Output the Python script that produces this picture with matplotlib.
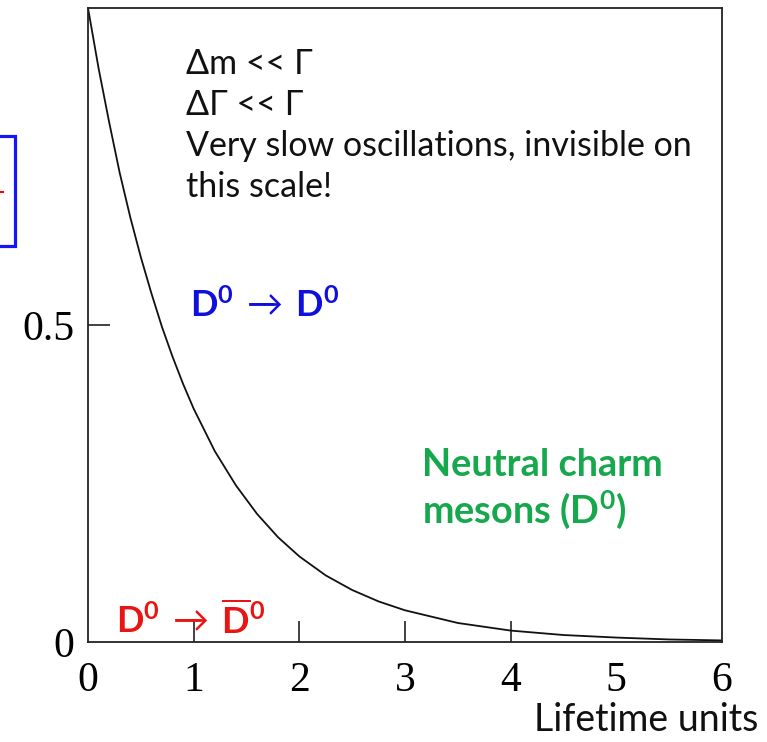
import matplotlib
matplotlib.use("Agg")
import matplotlib.pyplot as plt
from matplotlib.patches import Rectangle
from matplotlib.lines import Line2D

# Survival probability of a D0 versus proper time (in lifetime units)
t_values = [0.0, 0.1, 0.2, 0.3, 0.4, 0.5, 0.6, 0.7, 0.8, 0.9, 1.0, 1.2, 1.4,
            1.6, 1.8, 2.0, 2.25, 2.5, 2.75, 3.0, 3.5, 4.0, 4.5, 5.0, 5.5, 6.0]
p_unmixed = [1.0, 0.905, 0.82, 0.74, 0.67, 0.607, 0.55, 0.497, 0.45, 0.407,
             0.368, 0.301, 0.247, 0.202, 0.165, 0.135, 0.105, 0.082, 0.064,
             0.05, 0.03, 0.018, 0.011, 0.007, 0.004, 0.0025]

x_ticks = [0, 1, 2, 3, 4, 5, 6]
x_tick_labels = ["0", "1", "2", "3", "4", "5", "6"]
y_ticks = [0, 0.5]
y_tick_labels = ["0", "0.5"]

plt.rcParams["mathtext.fontset"] = "custom"
plt.rcParams["mathtext.rm"] = "Lato"
plt.rcParams["mathtext.bf"] = "Lato:bold"
plt.rcParams["mathtext.fallback"] = "stix"

W, H = 767, 742
fig = plt.figure(figsize=(W / 100, H / 100), dpi=100)
fig.patch.set_facecolor("white")


def px(x, y):
    return x / W, 1 - y / H


ax = fig.add_axes([88 / W, 1 - 642 / H, (722 - 88) / W, (642 - 8) / H])
ax.plot(t_values, p_unmixed, color="#111111", lw=1.3)
ax.set_xlim(0, 6)
ax.set_ylim(0, 1)
for s in ax.spines.values():
    s.set_linewidth(1.3)
    s.set_color("#222222")

ax.set_xticks(x_ticks)
ax.set_xticklabels(x_tick_labels, family="Liberation Serif", fontsize=30)
ax.set_yticks(y_ticks)
ax.set_yticklabels(y_tick_labels, family="Liberation Serif", fontsize=30)
ax.tick_params(axis="x", direction="in", length=15, width=1.2, pad=14,
               color="#222222")
ax.tick_params(axis="y", direction="in", length=16, width=1.2, pad=10,
               color="#222222")
for i, tk in enumerate(ax.xaxis.get_major_ticks()):
    if i in (0, 5, 6):
        tk.tick1line.set_visible(False)
ax.yaxis.get_major_ticks()[0].tick1line.set_visible(False)

fam = ["Lato", "DejaVu Sans"]

notes = ["\u0394m << \u0393", "\u0394\u0393 << \u0393",
         "Very slow oscillations, invisible on", "this scale!"]
for i, line in enumerate(notes):
    fig.text(*px(186, 74 + i * 41), line, family=fam, fontsize=24.5,
             color="#111111", va="baseline", ha="left")

fig.text(*px(190, 317), r"$\mathbf{D^0}\,\rightarrow\,\mathbf{D^0}$",
         fontsize=26, color="#1010DD", va="baseline", ha="left")
fig.text(*px(116, 634),
         r"$\mathbf{D^0}\,\rightarrow\,\overline{\mathbf{D}}\mathbf{^0}$",
         fontsize=26, color="#E81515", va="baseline", ha="left")

fig.text(*px(422, 476), "Neutral charm", family=fam, fontsize=27.3,
         fontweight="bold", color="#17A84E", va="baseline", ha="left")
fig.text(*px(422, 523), r"mesons (D$\mathbf{^0}$)", family=fam, fontsize=27.3,
         fontweight="bold", color="#17A84E", va="baseline", ha="left")

fig.text(*px(534, 731), "Lifetime units", family=fam, fontsize=27,
         color="#111111", va="baseline", ha="left")

# partial framed box at the left margin
fig.add_artist(Rectangle(px(-20, 246), 35 / W, 110 / H, fill=False,
                         edgecolor="#1515F5", lw=2.3,
                         transform=fig.transFigure))
fig.add_artist(Line2D([0, 3 / W], [1 - 192 / H, 1 - 192 / H], color="red",
                      lw=1.5, transform=fig.transFigure))

fig.savefig("out.png", dpi=100, facecolor="white")
